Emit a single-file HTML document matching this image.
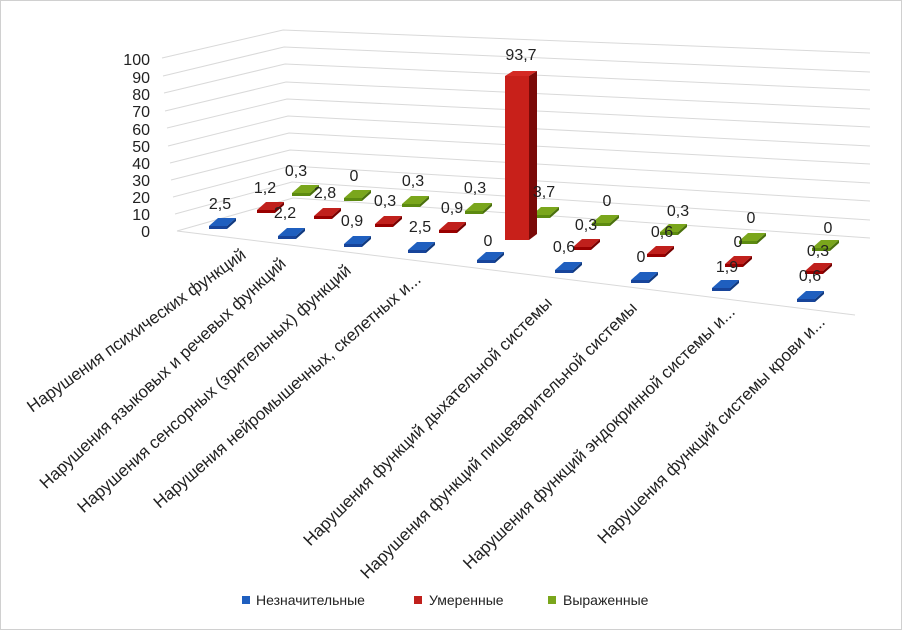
<!DOCTYPE html>
<html><head><meta charset="utf-8"><style>
body{margin:0;background:#fff}
svg{display:block}
text{font-family:"Liberation Sans",sans-serif;fill:#222}
</style></head><body>
<svg width="902" height="630" viewBox="0 0 902 630" xmlns="http://www.w3.org/2000/svg">
<rect x="0.5" y="0.5" width="901" height="629" fill="#fff" stroke="#d0d0d0"/>
<g stroke="#d9d9d9" stroke-width="1" fill="none">
<polyline points="162,58 283,30 870,53"/>
<polyline points="163,76 284,47 870,72"/>
<polyline points="164,93 285,64 870,90"/>
<polyline points="165,111 286,82 870,109"/>
<polyline points="167,128 287,99 870,127"/>
<polyline points="168,146 288,116 870,146"/>
<polyline points="170,163 289,133 870,164"/>
<polyline points="171,180 290,150 870,183"/>
<polyline points="173,197 291,166 870,201"/>
<polyline points="175,214 292,182 870,220"/>
<polyline points="177,231 293,198 870,238"/>
<line x1="177" y1="231" x2="855" y2="315"/>
</g>
<g font-size="16" text-anchor="end">
<text x="150" y="65">100</text><text x="150" y="83">90</text><text x="150" y="100">80</text>
<text x="150" y="117">70</text><text x="150" y="135">60</text><text x="150" y="152">50</text>
<text x="150" y="169">40</text><text x="150" y="186">30</text><text x="150" y="203">20</text>
<text x="150" y="220">10</text><text x="150" y="237">0</text>
</g>
<defs>
<g id="tb"><polygon points="-13,4 -4,-4 14,-4 5,4" fill="#1f5fbf"/><polygon points="-13,4 5,4 5,7 -13,7" fill="#17449a"/><polygon points="5,4 14,-4 14,-1 5,7" fill="#103a80"/></g>
<g id="tr"><polygon points="-13,4 -4,-4 14,-4 5,4" fill="#c0201c"/><polygon points="-13,4 5,4 5,7 -13,7" fill="#900"/><polygon points="5,4 14,-4 14,-1 5,7" fill="#700"/></g>
<g id="tg"><polygon points="-13,4 -4,-4 14,-4 5,4" fill="#7aa61c"/><polygon points="-13,4 5,4 5,7 -13,7" fill="#5c8a10"/><polygon points="5,4 14,-4 14,-1 5,7" fill="#4a700c"/></g>
</defs>
<g>
<use href="#tg" x="305" y="189"/><use href="#tg" x="357" y="194"/><use href="#tg" x="415" y="200"/><use href="#tg" x="478" y="207"/><use href="#tg" x="545" y="211"/><use href="#tg" x="605" y="219"/><use href="#tg" x="673" y="228"/><use href="#tg" x="752" y="237"/><use href="#tg" x="825" y="244"/>
<use href="#tr" x="270" y="206"/><use href="#tr" x="327" y="212"/><use href="#tr" x="388" y="220"/><use href="#tr" x="452" y="226"/><use href="#tr" x="586" y="243"/><use href="#tr" x="660" y="250"/><use href="#tr" x="738" y="260"/><use href="#tr" x="818" y="267"/>
<use href="#tb" x="222" y="222"/><use href="#tb" x="291" y="232"/><use href="#tb" x="357" y="240"/><use href="#tb" x="421" y="246"/><use href="#tb" x="490" y="256"/><use href="#tb" x="568" y="266"/><use href="#tb" x="644" y="276"/><use href="#tb" x="725" y="284"/><use href="#tb" x="810" y="295"/>
<polygon points="505,76 513,71 537,71 529,76" fill="#d42a24"/>
<rect x="505" y="76" width="24" height="164" fill="#c8201a"/>
<polygon points="529,76 537,71 537,234 529,240" fill="#7a0a08"/>
</g>
<g font-size="16" text-anchor="middle">
<text x="220" y="209">2,5</text><text x="265" y="193">1,2</text><text x="296" y="176">0,3</text>
<text x="285" y="218">2,2</text><text x="325" y="198">2,8</text><text x="354" y="181">0</text>
<text x="352" y="226">0,9</text><text x="385" y="206">0,3</text><text x="413" y="186">0,3</text>
<text x="420" y="232">2,5</text><text x="452" y="213">0,9</text><text x="475" y="193">0,3</text>
<text x="488" y="246">0</text><text x="521" y="60">93,7</text><text x="544" y="197">3,7</text>
<text x="564" y="252">0,6</text><text x="586" y="230">0,3</text><text x="607" y="206">0</text>
<text x="641" y="262">0</text><text x="662" y="237">0,6</text><text x="678" y="216">0,3</text>
<text x="727" y="272">1,9</text><text x="738" y="247">0</text><text x="751" y="223">0</text>
<text x="810" y="281">0,6</text><text x="818" y="256">0,3</text><text x="828" y="233">0</text>
</g>
<g font-size="17" text-anchor="end">
<text transform="translate(247,257) rotate(-36)">Нарушения психических функций</text>
<text transform="translate(287,265) rotate(-43)">Нарушения языковых и речевых функций</text>
<text transform="translate(352,272) rotate(-42)">Нарушения сенсорных (зрительных) функций</text>
<text transform="translate(422,281) rotate(-41)">Нарушения нейромышечных, скелетных и...</text>
<text transform="translate(553,304) rotate(-45)">Нарушения функций дыхательной системы</text>
<text transform="translate(638,309) rotate(-45)">Нарушения функций пищеварительной системы</text>
<text transform="translate(736,313) rotate(-44)">Нарушения функций эндокринной системы и...</text>
<text transform="translate(826,323) rotate(-45)">Нарушения функций системы крови и...</text>
</g>
<g font-size="14">
<rect x="242" y="596" width="8" height="8" fill="#1f5fbf"/><text x="256" y="605">Незначительные</text>
<rect x="414" y="596" width="8" height="8" fill="#c0201c"/><text x="429" y="605">Умеренные</text>
<rect x="548" y="596" width="8" height="8" fill="#7aa61c"/><text x="563" y="605">Выраженные</text>
</g>
</svg>
</body></html>
